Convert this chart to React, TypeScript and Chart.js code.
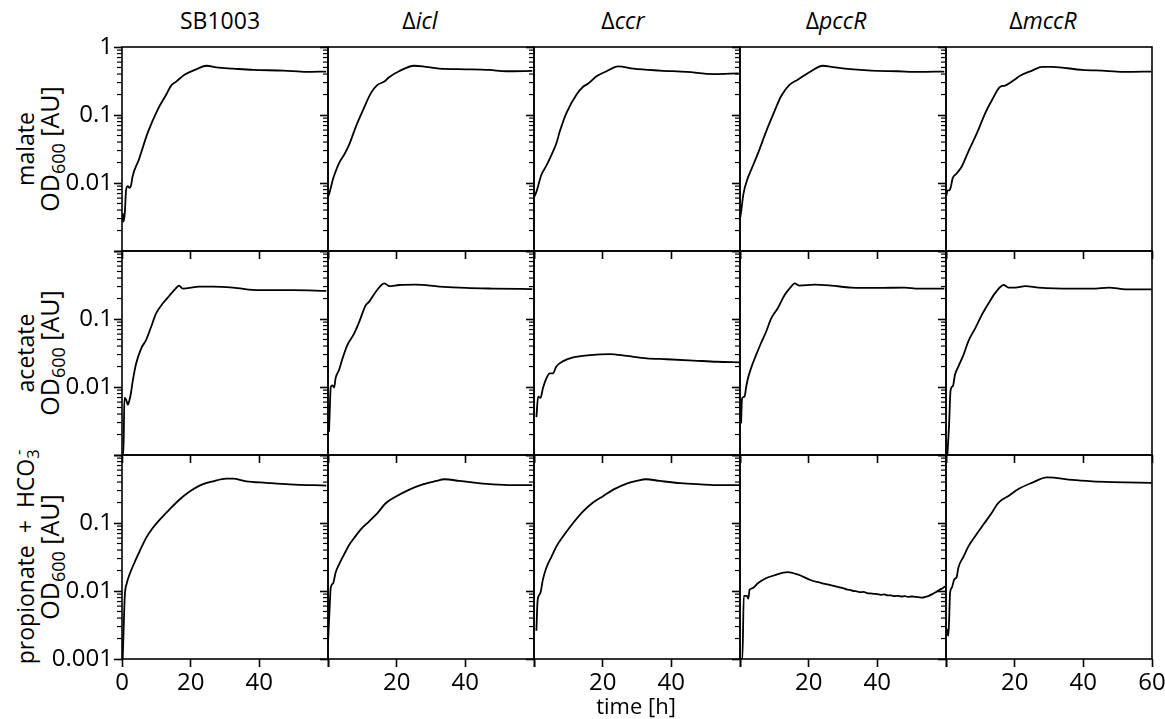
import React, { useEffect, useRef } from "react";
import { Chart, registerables } from "chart.js";

Chart.register(...registerables);

// ---------- labels / ticks ----------
const STRAINS = ["SB1003", "icl", "ccr", "pccR", "mccR"];
const STRAIN_IS_DELETION = [false, true, true, true, true];
const SUBSTRATES = ["malate", "acetate", "propionate"];
const X_AXIS_TITLE = "time [h]";
const X_TICKS = [0, 20, 40, 60];
const X_LABELS_BY_COL = [[0, 20, 40], [20, 40], [20, 40], [20, 40], [20, 40, 60]];
const Y_MAJOR = [0.001, 0.01, 0.1, 1];
const Y_MINOR = [
  0.002, 0.003, 0.004, 0.005, 0.006, 0.007, 0.008, 0.009,
  0.02, 0.03, 0.04, 0.05, 0.06, 0.07, 0.08, 0.09,
  0.2, 0.3, 0.4, 0.5, 0.6, 0.7, 0.8, 0.9,
];
const Y_LABELS_BY_ROW = [[1, 0.1, 0.01], [0.1, 0.01], [0.1, 0.01, 0.001]];

// ---------- data: [time h, OD600] ----------
const malateSB1003: [number, number][] = [
  [0.2, 0.0036], [0.4, 0.0027], [0.8, 0.0035], [1.2, 0.008], [1.7, 0.009], [2.2, 0.0085],
  [2.7, 0.0095], [3.0, 0.012], [4.9, 0.022], [7.5, 0.055], [10.4, 0.12], [12.9, 0.2],
  [14.3, 0.27], [15.8, 0.31], [18.2, 0.39], [21.6, 0.47], [24.7, 0.53], [27.5, 0.5],
  [32.4, 0.48], [38.2, 0.46], [47, 0.45], [53.7, 0.43], [59.5, 0.435],
];
const malateIcl: [number, number][] = [
  [0, 0.0062], [0.5, 0.0074], [1.5, 0.0116], [2.0, 0.0138], [3.2, 0.0195], [4.7, 0.026],
  [6.1, 0.036], [8.1, 0.067], [10, 0.112], [12.5, 0.21], [14.4, 0.277], [16.4, 0.31],
  [17.8, 0.36], [20.7, 0.44], [25.1, 0.53], [27.6, 0.52], [32.4, 0.48], [40.2, 0.47],
  [47, 0.46], [51.9, 0.44], [59.5, 0.445],
];
const malateCcr: [number, number][] = [
  [0, 0.0062], [0.7, 0.0074], [2.1, 0.013], [3.6, 0.018], [5.1, 0.026], [6.5, 0.038],
  [7.5, 0.057], [9.4, 0.106], [12.4, 0.2], [14.3, 0.26], [15.8, 0.29], [18.2, 0.37],
  [21.1, 0.44], [24.5, 0.52], [29, 0.48], [36.7, 0.45], [44.5, 0.43], [52.3, 0.4], [59.6, 0.41],
];
const malatePccR: [number, number][] = [
  [0, 0.003], [0.3, 0.0037], [1.0, 0.0069], [2.2, 0.0116], [3.2, 0.0154], [5.2, 0.027],
  [7.6, 0.057], [10, 0.112], [12, 0.19], [14.4, 0.277], [16.8, 0.33], [20.3, 0.43],
  [24.2, 0.53], [26.6, 0.51], [30.5, 0.48], [38.3, 0.45], [46, 0.44], [51.9, 0.43], [59.5, 0.435],
];
const malateMccR: [number, number][] = [
  [0, 0.0062], [0.5, 0.0078], [1.0, 0.0078], [1.4, 0.0087], [1.9, 0.0116], [3.1, 0.0138],
  [4.6, 0.0175], [6.5, 0.029], [9, 0.054], [11.4, 0.106], [13.4, 0.166], [15.8, 0.26],
  [17.2, 0.27], [19.2, 0.31], [21.7, 0.38], [25.1, 0.45], [28, 0.51], [30.9, 0.51],
  [39.7, 0.46], [46.5, 0.447], [52.3, 0.43], [59.8, 0.435],
];

const acetateSB1003: [number, number][] = [
  [0.1, 0.001], [0.4, 0.001], [0.7, 0.0069], [1.2, 0.0065], [1.7, 0.0055], [2.1, 0.0062],
  [2.6, 0.0081], [3.1, 0.012], [4.1, 0.022], [5.6, 0.037], [7, 0.049], [8.5, 0.077],
  [9.9, 0.12], [11.9, 0.17], [13.8, 0.22], [15.6, 0.28], [16.6, 0.31], [17.7, 0.28],
  [22.6, 0.3], [26.5, 0.3], [32.3, 0.29], [40, 0.265], [49.9, 0.265], [59.5, 0.26],
];
const acetateIcl: [number, number][] = [
  [0.3, 0.0022], [0.5, 0.0043], [0.8, 0.01], [1.3, 0.0106], [1.8, 0.0098], [2.2, 0.0134],
  [3.2, 0.0178], [4.2, 0.026], [5.6, 0.041], [7.6, 0.061], [9.1, 0.091], [11, 0.16],
  [12, 0.18], [13.9, 0.25], [16.4, 0.335], [17.8, 0.305], [20.7, 0.316], [25.6, 0.32],
  [32.4, 0.3], [40.2, 0.286], [48, 0.28], [59.5, 0.275],
];
const acetateCcr: [number, number][] = [
  [0.7, 0.0036], [1.2, 0.0072], [1.9, 0.0069], [2.6, 0.0096], [3.6, 0.0134], [4.6, 0.0159],
  [5.5, 0.0159], [6.5, 0.02], [8.5, 0.024], [11.4, 0.0273], [16.3, 0.0295], [22.1, 0.0305],
  [27, 0.0286], [32.8, 0.0264], [38.7, 0.0256], [46.4, 0.0245], [53.3, 0.0235], [59.9, 0.023],
];
const acetatePccR: [number, number][] = [
  [0.3, 0.0029], [0.6, 0.0068], [1.3, 0.0072], [1.8, 0.01], [2.2, 0.0127], [3.2, 0.0188],
  [4.7, 0.0296], [6.1, 0.044], [7.6, 0.065], [9.1, 0.102], [11, 0.144], [13, 0.225],
  [14.9, 0.3], [15.9, 0.335], [17.3, 0.31], [21.7, 0.32], [26.6, 0.31], [32.4, 0.29],
  [40.2, 0.286], [48, 0.29], [51.9, 0.28], [59.5, 0.28],
];
const acetateMccR: [number, number][] = [
  [0.4, 0.001], [0.9, 0.0028], [1.3, 0.0086], [1.7, 0.01], [2.1, 0.0106], [2.6, 0.015],
  [3.6, 0.02], [5.1, 0.0296], [6.5, 0.047], [8.5, 0.073], [10.4, 0.114], [12.4, 0.17],
  [14.3, 0.24], [16.8, 0.316], [18.2, 0.29], [20.2, 0.29], [23.1, 0.305], [27, 0.29],
  [36.7, 0.28], [42.6, 0.28], [47.5, 0.29], [52.3, 0.273], [59.9, 0.273],
];

const propionateSB1003: [number, number][] = [
  [0.2, 0.001], [0.5, 0.003], [0.8, 0.0083], [1.4, 0.013], [2.1, 0.017], [3.6, 0.026],
  [5.1, 0.038], [7, 0.06], [9, 0.085], [11.4, 0.118], [13.8, 0.158], [16.7, 0.22],
  [19.7, 0.29], [22.6, 0.355], [26.5, 0.41], [30.4, 0.45], [32.3, 0.45], [36.2, 0.41],
  [42, 0.39], [48.9, 0.37], [59.5, 0.355],
];
const propionateIcl: [number, number][] = [
  [0, 0.0017], [0.5, 0.006], [0.8, 0.0112], [1.5, 0.013], [2.2, 0.0185], [3.2, 0.0245],
  [4.7, 0.0345], [6.1, 0.047], [7.6, 0.06], [9.5, 0.08], [12, 0.106], [14.4, 0.14],
  [16.8, 0.195], [19.8, 0.245], [23.7, 0.31], [27.6, 0.37], [31.5, 0.415], [33.9, 0.44],
  [38.3, 0.415], [43.1, 0.39], [48, 0.37], [53.8, 0.36], [59.5, 0.36],
];
const propionateCcr: [number, number][] = [
  [0.7, 0.0026], [1.0, 0.0067], [1.4, 0.0085], [1.9, 0.0095], [2.6, 0.0148], [3.6, 0.022],
  [5.1, 0.032], [6.5, 0.045], [8.5, 0.064], [11.4, 0.1], [14.3, 0.148], [17.2, 0.2],
  [20.2, 0.25], [23.1, 0.31], [27, 0.38], [29.9, 0.415], [32.6, 0.44], [36.7, 0.415],
  [42.6, 0.385], [48.4, 0.37], [54.2, 0.36], [59.9, 0.36],
];
const propionatePccR: [number, number][] = [
  [0.3, 0.001], [0.7, 0.001], [1.1, 0.0085], [2.0, 0.0085], [2.4, 0.0077], [2.8, 0.0104],
  [3.7, 0.011], [5.2, 0.013], [7.1, 0.015], [10, 0.017], [13.9, 0.019], [16.8, 0.0175],
  [20.7, 0.0144], [23.5, 0.0132], [26.6, 0.0121], [29, 0.0113], [30, 0.011], [31, 0.0106],
  [32, 0.0104], [33, 0.01], [34, 0.0099], [35, 0.0096], [36, 0.0097], [37, 0.0093],
  [38, 0.0092], [39, 0.0091], [40, 0.009], [41, 0.0088], [42, 0.0089], [43, 0.0086],
  [44, 0.0086], [45, 0.0084], [46, 0.0085], [47, 0.0083], [48, 0.0084], [49, 0.0082],
  [50, 0.0083], [51, 0.0082], [52, 0.0081], [53, 0.008], [54, 0.0082], [55, 0.0085],
  [56, 0.009], [57, 0.0096], [58, 0.0103], [59, 0.011], [60, 0.0118],
];
const propionateMccR: [number, number][] = [
  [0.2, 0.0028], [0.7, 0.0022], [1.2, 0.0095], [1.7, 0.0112], [2.4, 0.0148], [3.1, 0.016],
  [3.6, 0.022], [5.1, 0.032], [6.5, 0.045], [8.5, 0.064], [10.9, 0.095], [13.3, 0.14],
  [14.8, 0.186], [15.8, 0.21], [18.2, 0.25], [21.1, 0.316], [25, 0.39], [29.4, 0.47],
  [31.4, 0.465], [36.7, 0.43], [42.6, 0.41], [48.4, 0.4], [59.9, 0.39],
];

const PANEL_DATA = [
  [malateSB1003, malateIcl, malateCcr, malatePccR, malateMccR],
  [acetateSB1003, acetateIcl, acetateCcr, acetatePccR, acetateMccR],
  [propionateSB1003, propionateIcl, propionateCcr, propionatePccR, propionateMccR],
];

// ---------- layout ----------
const PLOT_LEFT = 122;
const PLOT_TOP = 47;
const PANEL_W = 206;
const PANEL_H = 204;
const ML = 84;
const MR = 22;
const MT = 16;
const MB = 44;
const FONT = "'Open Sans', 'DejaVu Sans', sans-serif";
const TICK_FONT_SIZE = 24;
const TITLE_CENTERS = [220, 420, 623, 836, 1043];

const framePlugin = {
  id: "frame",
  afterDraw(chart: any) {
    const { ctx, chartArea: a, scales } = chart;
    ctx.save();
    ctx.strokeStyle = "#000";
    ctx.lineWidth = 1.2;
    for (const v of Y_MINOR) {
      const py = scales.y.getPixelForValue(v);
      ctx.beginPath();
      ctx.moveTo(a.left - 5, py);
      ctx.lineTo(a.left, py);
      ctx.stroke();
    }
    ctx.lineWidth = 1.6;
    ctx.strokeRect(a.left, a.top, a.right - a.left, a.bottom - a.top);
    ctx.restore();
  },
};

function Panel({ row, col }: { row: number; col: number }) {
  const ref = useRef<HTMLCanvasElement>(null);
  useEffect(() => {
    const pts = PANEL_DATA[row][col];
    const xLabels = row === 2 ? X_LABELS_BY_COL[col] : [];
    const yLabels = col === 0 ? Y_LABELS_BY_ROW[row] : [];
    const chart = new Chart(ref.current as HTMLCanvasElement, {
      type: "line",
      data: {
        datasets: [
          {
            data: pts.map(([x, y]) => ({ x, y })),
            borderColor: "#000",
            borderWidth: 1.8,
            pointRadius: 0,
            fill: false,
            cubicInterpolationMode: "monotone",
          },
        ],
      },
      options: {
        animation: false,
        responsive: true,
        maintainAspectRatio: false,
        events: [],
        layout: { padding: { top: MT, right: MR, left: 0, bottom: 0 } },
        plugins: { legend: { display: false }, tooltip: { enabled: false } },
        scales: {
          x: {
            type: "linear",
            min: 0,
            max: 60,
            afterBuildTicks: (s: any) => {
              s.ticks = X_TICKS.map((value) => ({ value }));
            },
            afterFit: (s: any) => {
              s.height = MB;
            },
            border: { display: false },
            grid: {
              drawOnChartArea: false,
              drawTicks: true,
              tickLength: 8,
              tickColor: "#000",
              tickWidth: 1.6,
            },
            ticks: {
              autoSkip: false,
              maxRotation: 0,
              padding: 2,
              color: "#000",
              font: { family: FONT, size: TICK_FONT_SIZE },
              callback: (v: any) => (xLabels.includes(Number(v)) ? String(v) : ""),
            },
          },
          y: {
            type: "logarithmic",
            min: 0.001,
            max: 1,
            afterBuildTicks: (s: any) => {
              s.ticks = Y_MAJOR.map((value) => ({ value, major: true }));
            },
            afterFit: (s: any) => {
              s.width = ML;
            },
            border: { display: false },
            grid: {
              drawOnChartArea: false,
              drawTicks: true,
              tickLength: 8,
              tickColor: "#000",
              tickWidth: 1.6,
            },
            ticks: {
              autoSkip: false,
              padding: 1,
              color: "#000",
              font: { family: FONT, size: TICK_FONT_SIZE },
              callback: (v: any) => (yLabels.includes(Number(v)) ? String(Number(v)) : ""),
            },
          },
        },
      } as any,
      plugins: [framePlugin],
    });
    return () => chart.destroy();
  }, [row, col]);
  return (
    <div
      style={{
        position: "absolute",
        left: PLOT_LEFT + col * PANEL_W - ML,
        top: PLOT_TOP + row * PANEL_H - MT,
        width: PANEL_W + ML + MR,
        height: PANEL_H + MT + MB,
      }}
    >
      <canvas ref={ref} />
    </div>
  );
}

const subStyle: React.CSSProperties = { fontSize: "0.72em", verticalAlign: "-0.32em", lineHeight: 0 };
const supStyle: React.CSSProperties = { fontSize: "0.72em", verticalAlign: "0.6em", lineHeight: 0 };

function RowLabel({ row }: { row: number }) {
  const cy = PLOT_TOP + row * PANEL_H + PANEL_H / 2;
  const cx = 37;
  const w = 320;
  const h = 48;
  return (
    <div
      style={{
        position: "absolute",
        left: cx - w / 2,
        top: cy - h / 2,
        width: w,
        height: h,
        transform: "rotate(-90deg)",
        textAlign: "center",
        fontFamily: FONT,
        lineHeight: "24px",
        color: "#000",
        whiteSpace: "nowrap",
      }}
    >
      <div style={{ fontSize: 23 }}>
        {SUBSTRATES[row]}
        {row === 2 ? (
          <>
            <span style={{ margin: "0 6px" }}> + </span>HCO
            <span style={subStyle}>3</span>
            <span style={{ ...supStyle, marginLeft: "-0.35em" }}>-</span>
          </>
        ) : null}
      </div>
      <div style={{ fontSize: 25 }}>
        OD<span style={subStyle}>600</span> [AU]
      </div>
    </div>
  );
}

export default function App() {
  const cells: JSX.Element[] = [];
  for (let r = 0; r < 3; r++) {
    for (let c = 0; c < 5; c++) {
      cells.push(<Panel key={`${r}-${c}`} row={r} col={c} />);
    }
  }
  return (
    <div
      style={{
        position: "absolute",
        left: 0,
        top: 0,
        width: 1165,
        height: 719,
        overflow: "hidden",
        background: "#fff",
      }}
    >
      {STRAINS.map((s, c) => (
        <div
          key={s}
          style={{
            position: "absolute",
            left: TITLE_CENTERS[c] - 100,
            top: 6,
            width: 200,
            textAlign: "center",
            fontFamily: FONT,
            fontSize: 23,
            lineHeight: "28px",
            color: "#000",
          }}
        >
          {STRAIN_IS_DELETION[c] ? (
            <>
              Δ<i>{s}</i>
            </>
          ) : (
            s
          )}
        </div>
      ))}
      {[0, 1, 2].map((r) => (
        <RowLabel key={r} row={r} />
      ))}
      {cells}
      <div
        style={{
          position: "absolute",
          left: 536,
          top: 691,
          width: 200,
          textAlign: "center",
          fontFamily: FONT,
          fontSize: 22,
          lineHeight: "28px",
          color: "#000",
        }}
      >
        {X_AXIS_TITLE}
      </div>
    </div>
  );
}
